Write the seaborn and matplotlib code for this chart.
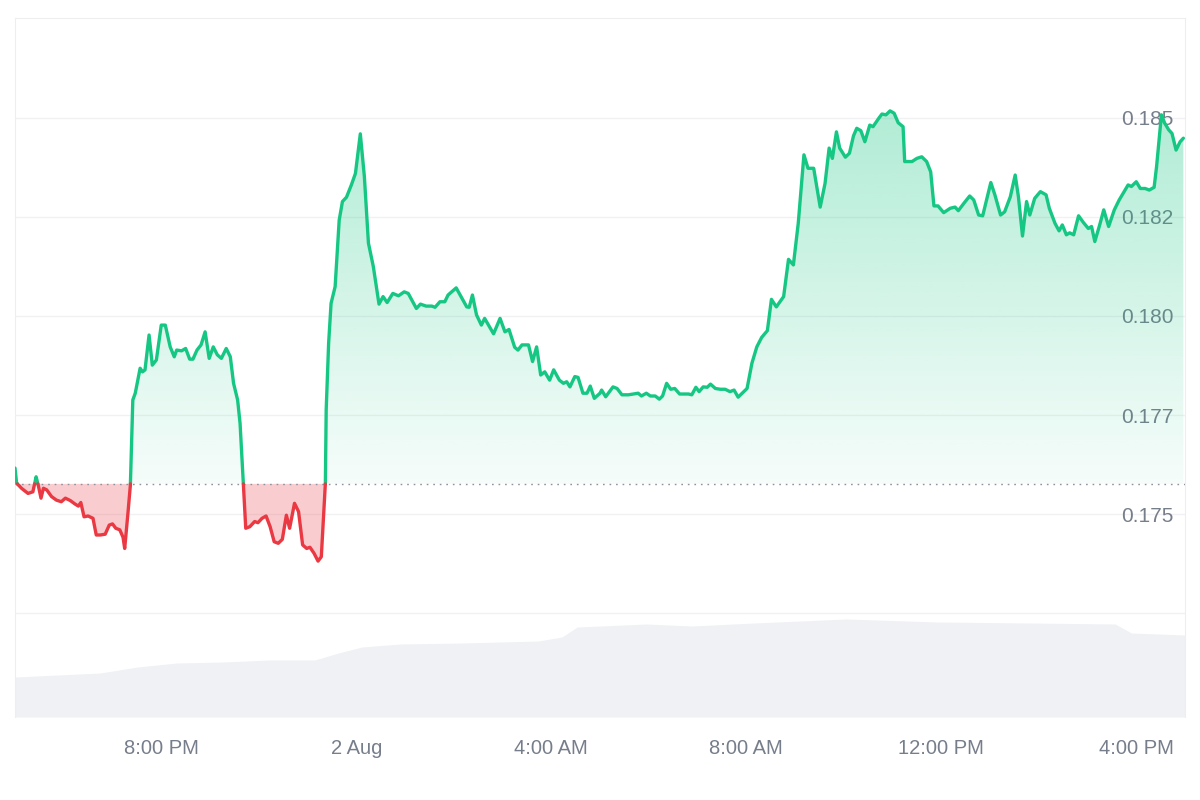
import numpy as np
import pandas as pd
import matplotlib
matplotlib.use('Agg')
import matplotlib.pyplot as plt
from matplotlib.path import Path
import seaborn as sns

# minutes after 1 Aug 17:00
t_min = [0, 2, 8, 16, 22, 26, 29, 32, 35, 39,
         45, 51, 57, 62, 68, 74, 78, 81, 85, 90,
         96, 100, 105, 111, 116, 120, 124, 129, 133, 135,
         139, 142, 145, 148, 154, 157, 160, 165, 169, 174,
         180, 185, 191, 196, 199, 205, 210, 215, 219, 224,
         229, 234, 239, 244, 249, 254, 260, 265, 269, 274,
         277, 281, 284, 289, 295, 299, 304, 309, 314, 319,
         324, 329, 334, 338, 344, 349, 354, 359, 363, 368,
         373, 377, 382, 383, 386, 389, 394, 399, 403, 408,
         414, 419, 425, 430, 435, 441, 448, 453, 458, 465,
         472, 479, 484, 494, 499, 506, 513, 517, 523, 529,
         533, 543, 549, 556, 559, 563, 568, 574, 578, 589,
         597, 603, 608, 615, 619, 624, 632, 637, 642, 647,
         652, 658, 663, 670, 675, 679, 683, 689, 693, 699,
         704, 708, 713, 720, 722, 727, 736, 741, 747, 755,
         761, 767, 771, 777, 782, 788, 793, 797, 802, 807,
         812, 818, 823, 829, 833, 838, 842, 847, 852, 856,
         862, 868, 874, 880, 885, 890, 894, 901, 907, 913,
         919, 926, 931, 937, 946, 952, 958, 964, 971, 976,
         983, 991, 997, 1002, 1006, 1011, 1015, 1022, 1027, 1032,
         1036, 1041, 1046, 1052, 1056, 1063, 1067, 1072, 1077, 1082,
         1087, 1093, 1095, 1104, 1110, 1116, 1122, 1127, 1131, 1136,
         1143, 1151, 1157, 1161, 1168, 1175, 1180, 1186, 1191, 1201,
         1206, 1213, 1218, 1225, 1231, 1235, 1240, 1245, 1249, 1255,
         1262, 1269, 1273, 1280, 1285, 1289, 1294, 1298, 1303, 1309,
         1315, 1321, 1325, 1329, 1335, 1340, 1346, 1353, 1359, 1365,
         1370, 1374, 1380, 1385, 1391, 1396, 1402, 1405, 1411, 1415,
         1420, 1424, 1429, 1434, 1438]

price = [0.17616, 0.17578, 0.17565, 0.17552, 0.17556, 0.17594, 0.17569, 0.17540, 0.17565, 0.17561,
         0.17544, 0.17535, 0.17531, 0.17540, 0.17534, 0.17525, 0.17520, 0.17529, 0.17493, 0.17495,
         0.17489, 0.17447, 0.17447, 0.17449, 0.17472, 0.17475, 0.17464, 0.17460, 0.17441, 0.17413,
         0.17502, 0.17573, 0.17788, 0.17805, 0.17868, 0.17859, 0.17864, 0.17952, 0.17876, 0.17889,
         0.17977, 0.17977, 0.17922, 0.17897, 0.17914, 0.17912, 0.17918, 0.17891, 0.17891, 0.17914,
         0.17927, 0.17960, 0.17893, 0.17922, 0.17902, 0.17893, 0.17918, 0.17897, 0.17830, 0.17788,
         0.17729, 0.17578, 0.17464, 0.17468, 0.17481, 0.17478, 0.17489, 0.17495, 0.17468, 0.17430,
         0.17426, 0.17436, 0.17497, 0.17464, 0.17527, 0.17506, 0.17422, 0.17413, 0.17416, 0.17401,
         0.17381, 0.17392, 0.17578, 0.17763, 0.17931, 0.18032, 0.18074, 0.18242, 0.18289, 0.18300,
         0.18331, 0.18360, 0.18460, 0.18352, 0.18184, 0.18125, 0.18030, 0.18049, 0.18034, 0.18057,
         0.18051, 0.18061, 0.18057, 0.18019, 0.18030, 0.18025, 0.18025, 0.18022, 0.18036, 0.18036,
         0.18053, 0.18071, 0.18049, 0.18023, 0.18022, 0.18053, 0.18003, 0.17977, 0.17994, 0.17955,
         0.17994, 0.17960, 0.17966, 0.17921, 0.17914, 0.17927, 0.17927, 0.17885, 0.17922, 0.17851,
         0.17859, 0.17838, 0.17864, 0.17838, 0.17830, 0.17834, 0.17821, 0.17847, 0.17845, 0.17805,
         0.17805, 0.17823, 0.17792, 0.17805, 0.17813, 0.17796, 0.17821, 0.17817, 0.17801, 0.17801,
         0.17803, 0.17805, 0.17798, 0.17805, 0.17798, 0.17798, 0.17790, 0.17798, 0.17830, 0.17815,
         0.17817, 0.17803, 0.17803, 0.17803, 0.17801, 0.17820, 0.17809, 0.17821, 0.17820, 0.17828,
         0.17817, 0.17815, 0.17815, 0.17809, 0.17813, 0.17795, 0.17803, 0.17817, 0.17881, 0.17922,
         0.17946, 0.17963, 0.18042, 0.18023, 0.18049, 0.18143, 0.18129, 0.18234, 0.18407, 0.18373,
         0.18373, 0.18275, 0.18335, 0.18424, 0.18398, 0.18465, 0.18424, 0.18401, 0.18411, 0.18455,
         0.18474, 0.18468, 0.18440, 0.18482, 0.18478, 0.18499, 0.18510, 0.18508, 0.18518, 0.18512,
         0.18488, 0.18478, 0.18390, 0.18390, 0.18398, 0.18402, 0.18390, 0.18364, 0.18278, 0.18278,
         0.18261, 0.18272, 0.18275, 0.18266, 0.18285, 0.18303, 0.18293, 0.18255, 0.18253, 0.18337,
         0.18306, 0.18255, 0.18263, 0.18301, 0.18356, 0.18301, 0.18202, 0.18289, 0.18255, 0.18297,
         0.18314, 0.18306, 0.18272, 0.18234, 0.18215, 0.18230, 0.18205, 0.18210, 0.18205, 0.18253,
         0.18236, 0.18221, 0.18226, 0.18188, 0.18230, 0.18268, 0.18226, 0.18268, 0.18293, 0.18314,
         0.18331, 0.18327, 0.18339, 0.18322, 0.18322, 0.18318, 0.18325, 0.18377, 0.18508, 0.18487,
         0.18470, 0.18461, 0.18419, 0.18440, 0.18449]

base_price = 0.17576

vol_t_min = [0, 105, 151, 199, 256, 313, 369, 398, 427, 474, 550, 644,
             673, 692, 777, 833, 910, 1023, 1136, 1250, 1354, 1374, 1440]
volume = [40, 44, 50, 54, 55, 57, 57, 64, 70, 73, 74, 76,
          80, 90, 93, 91, 94, 98, 95, 94, 93, 84, 82]

tick_hours = [3, 7, 11, 15, 19, 23]
tick_labels = ['8:00 PM', '2 Aug', '4:00 AM', '8:00 AM', '12:00 PM', '4:00 PM']
price_ticks = [0.1725, 0.175, 0.1775, 0.18, 0.1825, 0.185]
price_tick_labels = ['', '0.175', '0.177', '0.180', '0.182', '0.185']

GREEN = '#16c784'
RED = '#ea3943'
GREY_TXT = '#777e8b'

sns.set_style('white')
plt.rcParams['font.family'] = ['Liberation Sans', 'DejaVu Sans']

# split the line where it crosses the base price
hours = np.array(t_min, float) / 60
ps = np.array(price)
rows = []
seg = 0
prev = None
for i in range(len(hours)):
    side = 'up' if ps[i] >= base_price else 'down'
    if prev is not None and side != prev:
        f = (base_price - ps[i - 1]) / (ps[i] - ps[i - 1])
        hc = hours[i - 1] + f * (hours[i] - hours[i - 1])
        rows.append((hc, base_price, seg, prev))
        seg += 1
        rows.append((hc, base_price, seg, side))
    rows.append((hours[i], ps[i], seg, side))
    prev = side
df = pd.DataFrame(rows, columns=['hour', 'price', 'seg', 'side'])

fig = plt.figure(figsize=(12, 8), dpi=100)
ax_v = fig.add_axes([15 / 1200, 1 - 717 / 800, 1170 / 1200, 699 / 800])
ax = ax_v.twinx()

# volume
vh = np.array(vol_t_min, float) / 60
ax_v.fill_between(vh, volume, 0, color='#eff1f5', lw=0)
ax_v.set_ylim(0, 699)
ax_v.set_yticks([])
for s in ['left', 'top', 'right']:
    ax_v.spines[s].set_color('#eeeeee')
ax_v.spines['bottom'].set_visible(False)

# fills
x = df['hour'].values
p = df['price'].values
ax.fill_between(x, p, base_price, where=p <= base_price, interpolate=True,
                color=RED, alpha=0.25, lw=0)
poly = ax.fill_between(x, p, base_price, where=p >= base_price, interpolate=True,
                       facecolor='none', lw=0)
clip = Path.make_compound_path(*poly.get_paths())
grad = np.zeros((256, 1, 4))
grad[..., :3] = matplotlib.colors.to_rgb(GREEN)
grad[:, 0, 3] = np.linspace(0.04, 0.34, 256)
im = ax.imshow(grad, extent=[0, 24, base_price, 0.1853], origin='lower',
               aspect='auto', zorder=1)
im.set_clip_path(clip, transform=ax.transData)

ax.axhline(base_price, color='#8d929c', ls=(0, (1.2, 3.5)), lw=1, zorder=2)

sns.lineplot(data=df, x='hour', y='price', hue='side', units='seg', estimator=None,
             palette={'up': GREEN, 'down': RED}, linewidth=2.4, legend=False,
             sort=False, ax=ax, zorder=3)

ax.set_xlim(0, 24)
ax.set_ylim(0.169874, 0.187525)
ax.set_yticks(price_ticks)
ax.set_yticklabels(price_tick_labels)
ax.grid(axis='y', color='#f1f1f3', lw=1)
ax.set_axisbelow(True)
ax.tick_params(axis='y', length=0, pad=-8.5, labelsize=15, labelcolor=GREY_TXT)
for lbl in ax.get_yticklabels():
    lbl.set_ha('right')
ax.set_ylabel('')
ax.set_xlabel('')
for s in ax.spines.values():
    s.set_visible(False)

ax_v.set_xlim(0, 24)
ax_v.set_xticks(tick_hours)
ax_v.set_xticklabels(tick_labels)
ax_v.tick_params(axis='x', length=0, pad=15.5, labelsize=14.5, labelcolor=GREY_TXT)

fig.savefig('out.png', dpi=100, facecolor='white')
